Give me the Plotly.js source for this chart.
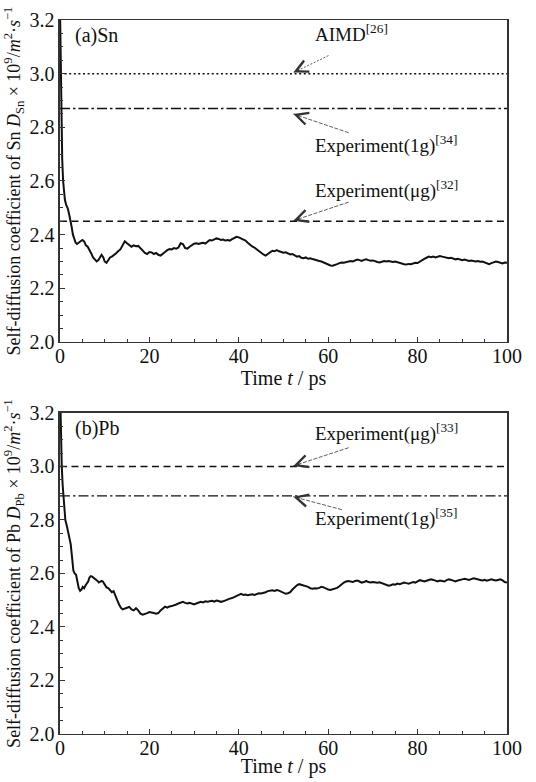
<!DOCTYPE html>
<html>
<head>
<meta charset="utf-8">
<script src="https://cdn.plot.ly/plotly-3.0.1.min.js"></script>
<style>
html,body{margin:0;padding:0;background:#fff;}
#chart{width:536px;height:782px;}
</style>
</head>
<body>
<div id="chart"></div>
<script>
// ---------- data ----------
const snTime = [0,0.1,0.2,0.3,0.4,0.5,0.7,0.9,1.1,1.4,1.7,2.0,2.3,2.6,2.9,3.2,3.5,3.8,4.2,4.6,5.0,5.4,5.8,6.2,6.6,7.0,7.4,7.8,8.2,8.6,9.0,9.3,9.7,10.0,10.4,10.8,11.2,11.6,12.0,12.5,13.0,13.5,14.0,14.5,15.0,15.5,16.0,16.5,17.0,17.5,18.0,18.5,19.0,19.5,20.0,20.5,21.0,21.5,22.0,22.5,23.0,23.5,24.0,24.5,25.0,25.5,26.0,26.5,27.0,27.5,28.0,28.5,29.0,29.5,30.0,30.5,31.0,31.5,32.0,32.5,33.0,33.5,34.0,34.5,35.0,35.5,36.0,36.5,37.0,37.5,38.0,38.5,39.0,39.5,40.0,40.5,41.0,41.5,42.0,42.5,43.0,43.5,44.0,44.5,45.0,45.5,46.0,46.5,47.0,47.5,48.0,48.5,49.0,49.5,50.0,50.5,51.0,51.5,52.0,52.5,53.0,53.5,54.0,54.5,55.0,55.5,56.0,56.5,57.0,57.5,58.0,58.5,59.0,59.5,60.0,60.5,61.0,61.5,62.0,62.5,63.0,63.5,64.0,64.5,65.0,65.5,66.0,66.5,67.0,67.5,68.0,68.5,69.0,69.5,70.0,70.5,71.0,71.5,72.0,72.5,73.0,73.5,74.0,74.5,75.0,75.5,76.0,76.5,77.0,77.5,78.0,78.5,79.0,79.5,80.0,80.5,81.0,81.5,82.0,82.5,83.0,83.5,84.0,84.5,85.0,85.5,86.0,86.5,87.0,87.5,88.0,88.5,89.0,89.5,90.0,90.5,91.0,91.5,92.0,92.5,93.0,93.5,94.0,94.5,95.0,95.5,96.0,96.5,97.0,97.5,98.0,98.5,99.0,99.5,100.0];
const snD = [3.25,3.10,2.95,2.84,2.76,2.68,2.60,2.55,2.53,2.51,2.50,2.48,2.46,2.43,2.40,2.38,2.37,2.365,2.37,2.375,2.38,2.375,2.36,2.355,2.345,2.33,2.315,2.305,2.300,2.305,2.315,2.325,2.315,2.300,2.295,2.305,2.315,2.318,2.325,2.33,2.338,2.345,2.36,2.375,2.368,2.36,2.355,2.36,2.357,2.358,2.348,2.338,2.332,2.328,2.335,2.334,2.328,2.332,2.325,2.322,2.330,2.335,2.342,2.346,2.345,2.350,2.348,2.352,2.368,2.365,2.350,2.348,2.355,2.362,2.366,2.368,2.365,2.368,2.370,2.367,2.375,2.380,2.378,2.383,2.386,2.384,2.380,2.382,2.378,2.380,2.378,2.383,2.388,2.392,2.390,2.386,2.384,2.378,2.370,2.362,2.356,2.352,2.345,2.338,2.332,2.326,2.322,2.328,2.335,2.340,2.338,2.342,2.338,2.336,2.333,2.334,2.330,2.326,2.328,2.322,2.318,2.320,2.314,2.312,2.315,2.310,2.312,2.309,2.306,2.304,2.302,2.300,2.296,2.292,2.288,2.285,2.284,2.286,2.290,2.294,2.296,2.295,2.298,2.300,2.302,2.300,2.304,2.307,2.305,2.302,2.306,2.308,2.305,2.303,2.304,2.300,2.298,2.296,2.300,2.302,2.300,2.302,2.300,2.298,2.300,2.297,2.294,2.292,2.290,2.289,2.291,2.290,2.293,2.295,2.294,2.300,2.306,2.310,2.314,2.318,2.316,2.318,2.315,2.317,2.320,2.318,2.316,2.313,2.312,2.314,2.311,2.308,2.310,2.306,2.305,2.307,2.304,2.302,2.304,2.301,2.300,2.302,2.299,2.300,2.297,2.292,2.290,2.294,2.298,2.300,2.298,2.295,2.293,2.296,2.295];

const pbTime = [0,0.1,0.2,0.4,0.6,0.8,1.0,1.2,1.5,1.8,2.1,2.4,2.7,3.0,3.3,3.6,3.9,4.2,4.5,4.8,5.1,5.4,5.7,6.0,6.3,6.6,6.9,7.2,7.5,7.8,8.1,8.4,8.7,9.0,9.3,9.6,10.0,10.4,10.8,11.2,11.6,12.0,12.4,12.8,13.2,13.6,14.0,14.5,15.0,15.5,16.0,16.5,17.0,17.5,18.0,18.5,19.0,19.5,20.0,20.5,21.0,21.5,22.0,22.5,23.0,23.5,24.0,24.5,25.0,25.5,26.0,26.5,27.0,27.5,28.0,28.5,29.0,29.5,30.0,30.5,31.0,31.5,32.0,32.5,33.0,33.5,34.0,34.5,35.0,35.5,36.0,36.5,37.0,37.5,38.0,38.5,39.0,39.5,40.0,40.5,41.0,41.5,42.0,42.5,43.0,43.5,44.0,44.5,45.0,45.5,46.0,46.5,47.0,47.5,48.0,48.5,49.0,49.5,50.0,50.5,51.0,51.5,52.0,52.5,53.0,53.5,54.0,54.5,55.0,55.5,56.0,56.5,57.0,57.5,58.0,58.5,59.0,59.5,60.0,60.5,61.0,61.5,62.0,62.5,63.0,63.5,64.0,64.5,65.0,65.5,66.0,66.5,67.0,67.5,68.0,68.5,69.0,69.5,70.0,70.5,71.0,71.5,72.0,72.5,73.0,73.5,74.0,74.5,75.0,75.5,76.0,76.5,77.0,77.5,78.0,78.5,79.0,79.5,80.0,80.5,81.0,81.5,82.0,82.5,83.0,83.5,84.0,84.5,85.0,85.5,86.0,86.5,87.0,87.5,88.0,88.5,89.0,89.5,90.0,90.5,91.0,91.5,92.0,92.5,93.0,93.5,94.0,94.5,95.0,95.5,96.0,96.5,97.0,97.5,98.0,98.5,99.0,99.5,100.0];
const pbD = [3.30,3.20,3.10,3.00,2.93,2.88,2.84,2.80,2.78,2.76,2.74,2.71,2.66,2.61,2.60,2.595,2.57,2.545,2.535,2.540,2.550,2.545,2.555,2.562,2.570,2.585,2.590,2.588,2.584,2.582,2.575,2.572,2.566,2.568,2.572,2.570,2.556,2.548,2.545,2.535,2.530,2.534,2.520,2.500,2.485,2.472,2.466,2.468,2.472,2.475,2.466,2.462,2.470,2.462,2.450,2.446,2.448,2.452,2.456,2.455,2.452,2.450,2.452,2.462,2.470,2.476,2.472,2.477,2.478,2.480,2.484,2.488,2.490,2.494,2.490,2.488,2.490,2.486,2.484,2.488,2.492,2.494,2.492,2.496,2.494,2.497,2.498,2.495,2.499,2.497,2.494,2.496,2.500,2.504,2.506,2.508,2.512,2.518,2.522,2.524,2.520,2.521,2.519,2.520,2.522,2.520,2.524,2.526,2.525,2.527,2.530,2.534,2.536,2.537,2.535,2.538,2.536,2.532,2.526,2.524,2.526,2.530,2.540,2.548,2.556,2.560,2.558,2.556,2.552,2.550,2.545,2.543,2.545,2.544,2.546,2.550,2.548,2.543,2.540,2.538,2.540,2.544,2.546,2.552,2.560,2.566,2.570,2.572,2.570,2.568,2.572,2.574,2.570,2.566,2.568,2.572,2.568,2.566,2.568,2.566,2.565,2.567,2.564,2.560,2.556,2.554,2.556,2.560,2.558,2.562,2.560,2.562,2.566,2.564,2.562,2.565,2.568,2.566,2.572,2.575,2.573,2.570,2.573,2.576,2.578,2.576,2.572,2.570,2.574,2.572,2.570,2.575,2.578,2.576,2.573,2.570,2.574,2.577,2.578,2.580,2.578,2.576,2.579,2.582,2.580,2.577,2.576,2.574,2.576,2.573,2.575,2.578,2.576,2.574,2.576,2.578,2.574,2.568,2.566];

const snRefLabels = ['AIMD<sup>[26]</sup>', 'Experiment(1g)<sup>[34]</sup>', 'Experiment(μg)<sup>[32]</sup>'];
const snRefValues = [3.00, 2.87, 2.45];
const pbRefLabels = ['Experiment(μg)<sup>[33]</sup>', 'Experiment(1g)<sup>[35]</sup>'];
const pbRefValues = [3.00, 2.89];

const panelLabels = ['(a)Sn', '(b)Pb'];
const xTitle = 'Time <i>t</i> / ps';
const yTitleSn = 'Self-diffusion coefficient of Sn <i>D</i><sub>Sn</sub> × 10<sup>9</sup>/<i>m</i><sup>2</sup>·<i>s</i><sup>−1</sup>';
const yTitlePb = 'Self-diffusion coefficient of Pb <i>D</i><sub>Pb</sub> × 10<sup>9</sup>/<i>m</i><sup>2</sup>·<i>s</i><sup>−1</sup>';

// ---------- styling ----------
const FONT = '"Liberation Serif", "Times New Roman", Times, serif';
const INK = '#111';
const DOT = '2px,2.6px';
const DASHDOT = '10px,3px,2.5px,3px';
const DASH = '7px,4.5px';

function refTrace(v, dash, xa, ya) {
  return {x: [0, 100], y: [v, v], xaxis: xa, yaxis: ya, mode: 'lines',
    line: {color: INK, width: 1.4, dash: dash}, hoverinfo: 'skip', showlegend: false};
}

const traces = [
  {x: snTime, y: snD, xaxis: 'x', yaxis: 'y', mode: 'lines', line: {color: '#111', width: 2}, showlegend: false},
  refTrace(snRefValues[0], DOT, 'x', 'y'),
  refTrace(snRefValues[1], DASHDOT, 'x', 'y'),
  refTrace(snRefValues[2], DASH, 'x', 'y'),
  {x: pbTime, y: pbD, xaxis: 'x2', yaxis: 'y2', mode: 'lines', line: {color: '#111', width: 2}, showlegend: false},
  refTrace(pbRefValues[0], DASH, 'x2', 'y2'),
  refTrace(pbRefValues[1], DASHDOT, 'x2', 'y2')
];

function xAxis(anchor) {
  return {domain: [0.1119, 0.9459], range: [0, 100], anchor: anchor,
    showline: true, mirror: true, linecolor: '#333', linewidth: 1.5,
    ticks: 'inside', dtick: 20, tick0: 0, ticklen: 5, tickwidth: 1, tickcolor: '#333',
    minor: {dtick: 5, ticks: 'inside', ticklen: 3, tickwidth: 1, tickcolor: '#333'},
    showgrid: false, zeroline: false,
    tickfont: {family: FONT, size: 20, color: INK},
    title: {text: xTitle, font: {family: FONT, size: 20, color: INK}, standoff: 0}};
}
function yAxis(anchor, domain, title) {
  return {domain: domain, range: [2.0, 3.2], anchor: anchor,
    showline: true, mirror: true, linecolor: '#333', linewidth: 1.5,
    ticks: 'inside', dtick: 0.2, tick0: 2.0, ticklen: 5, tickwidth: 1, tickcolor: '#333',
    minor: {dtick: 0.05, ticks: 'inside', ticklen: 3, tickwidth: 1, tickcolor: '#333'},
    tickformat: '.1f', showgrid: false, zeroline: false,
    tickfont: {family: FONT, size: 20, color: INK},
    title: {text: title, font: {family: FONT, size: 18, color: INK}, standoff: 4}};
}

const textFont = {family: FONT, size: 19, color: INK};
function label(text, x, y, xr, yr) {
  return {text: text, x: x, y: y, xref: xr, yref: yr, xanchor: 'left', yanchor: 'middle',
    showarrow: false, font: textFont};
}
function arrow(hx, hy, tx, ty, xr, yr) {
  return {text: '', x: hx, y: hy, ax: tx, ay: ty, xref: xr, yref: yr, axref: xr, ayref: yr,
    showarrow: true, arrowhead: 5, arrowsize: 3, arrowwidth: 0.8, arrowcolor: '#333', standoff: 0, startstandoff: 0};
}

const annotations = [
  {text: panelLabels[0], x: 2.9, y: 3.144, xref: 'x', yref: 'y', xanchor: 'left', yanchor: 'middle', showarrow: false, font: {family: FONT, size: 20, color: INK}},
  label(snRefLabels[0], 56.5, 3.150, 'x', 'y'),
  label(snRefLabels[1], 56.5, 2.737, 'x', 'y'),
  label(snRefLabels[2], 56.5, 2.569, 'x', 'y'),
  arrow(52.2, 3.004, 60.4, 3.070, 'x', 'y'),
  arrow(52.2, 2.850, 64.9, 2.778, 'x', 'y'),
  arrow(52.2, 2.452, 64.9, 2.523, 'x', 'y'),
  {text: panelLabels[1], x: 2.9, y: 3.142, xref: 'x2', yref: 'y2', xanchor: 'left', yanchor: 'middle', showarrow: false, font: {family: FONT, size: 20, color: INK}},
  label(pbRefLabels[0], 56.5, 3.128, 'x2', 'y2'),
  label(pbRefLabels[1], 56.5, 2.811, 'x2', 'y2'),
  arrow(52.2, 3.002, 64.9, 3.072, 'x2', 'y2'),
  arrow(52.2, 2.887, 63.4, 2.837, 'x2', 'y2')
];
const arrowDash = {4: '2,1.6', 5: '4,1.5', 6: '4,1.5', 10: '4,1.5', 11: '4,1.5'};

const layout = {
  width: 536, height: 782,
  margin: {l: 0, r: 0, t: 0, b: 0},
  paper_bgcolor: '#fff', plot_bgcolor: '#fff',
  font: {family: FONT, color: INK},
  showlegend: false,
  xaxis: xAxis('y'),
  yaxis: yAxis('x', [0.5627, 0.9744], yTitleSn),
  xaxis2: xAxis('y2'),
  yaxis2: yAxis('x2', [0.0614, 0.4719], yTitlePb),
  annotations: annotations
};

function nudge(selector, dy) {
  document.querySelectorAll(selector).forEach(function (el) {
    const t = el.getAttribute('transform') || '';
    el.setAttribute('transform', 'translate(0,' + dy + ') ' + t);
  });
}

Plotly.newPlot('chart', traces, layout, {staticPlot: true}).then(function () {
  document.querySelectorAll('g.annotation').forEach(function (g) {
    const idx = g.getAttribute('data-index');
    const p = g.querySelector('.annotation-arrow-g path');
    if (p && arrowDash[idx]) p.style.strokeDasharray = arrowDash[idx];
  });
  nudge('.g-xtitle text, .g-x2title text', -4);
  setTimeout(function () {
    nudge('g.xtick > text, g.x2tick > text', -4);
  }, 150);
});
</script>
</body>
</html>
